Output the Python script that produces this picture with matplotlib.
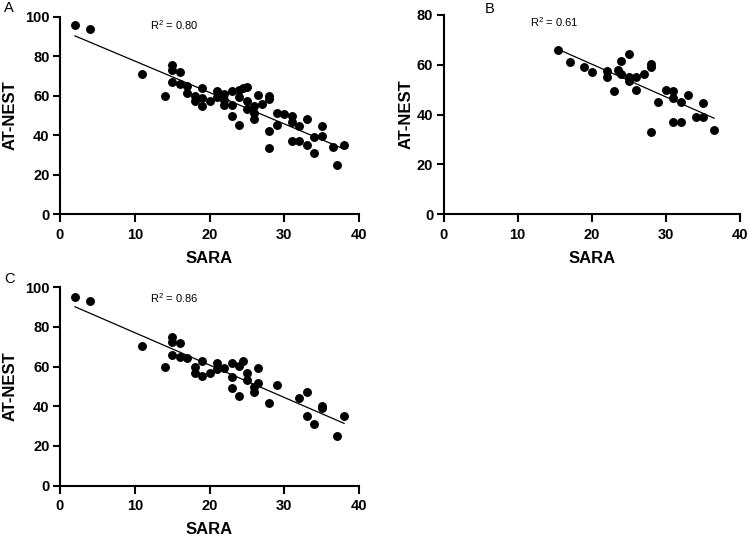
import numpy as np
import matplotlib
matplotlib.use("Agg")
import matplotlib.pyplot as plt

plt.rcParams['font.family'] = ['Liberation Sans', 'DejaVu Sans']
plt.rcParams['mathtext.fontset'] = 'custom'
plt.rcParams['mathtext.rm'] = 'Liberation Sans'

# Panel A data
a_x = [2, 4, 11, 14, 15, 15, 16, 15, 16, 17, 17, 18, 18, 19, 19, 19, 20, 21, 21, 22, 22, 22,
       23, 23, 23, 24, 24, 24, 24.5, 25, 25, 25, 26, 26, 26, 26.5, 27, 28, 28, 28, 28, 29, 29,
       30, 31, 31, 31, 32, 32, 33, 33, 34, 34, 35, 35, 36.5, 37, 38]
a_y = [95.5, 93.5, 71, 60, 75.5, 73, 72, 67, 66, 65, 61.5, 60, 57.5, 64, 59, 55, 57.5, 62.5, 59.5,
       61, 58, 55.5, 62.5, 55.5, 49.5, 45, 59.5, 63, 64, 64.5, 57.5, 53, 54.5, 51, 48, 60.5, 56,
       60, 58.5, 42, 33.5, 51, 45, 50.5, 49.5, 46.5, 37, 44.5, 37, 48, 35, 39, 31, 44.5, 39.5,
       34, 25, 35]

# Panel B data
b_x = [15.5, 17, 19, 20, 22, 22, 23, 23.5, 24, 24, 25, 25, 25, 26, 26, 27, 28, 28, 28, 29, 30,
       31, 31, 31, 32, 32, 33, 34, 35, 35, 36.5]
b_y = [66, 61, 59, 57, 57.5, 55, 49.5, 58, 61.5, 56.5, 64.5, 55, 53.5, 50, 55, 56.5, 60.5, 59,
       33, 45, 50, 49.5, 46.5, 37, 45, 37, 48, 39, 44.5, 39, 34]

# Panel C data
c_x = [2, 4, 11, 14, 15, 15, 16, 15, 16, 17, 18, 18, 19, 19, 20, 21, 21, 22, 23, 23, 23, 24, 24,
       24.5, 25, 25, 26, 26, 26.5, 26.5, 28, 29, 32, 33, 33, 34, 35, 35, 37, 38]
c_y = [95, 93, 70.5, 60, 75, 72.5, 72, 66, 65, 64.5, 60, 57, 63, 55, 57, 62, 59, 59.5, 62, 54.5,
       49, 60.5, 45, 63, 57, 53, 49.5, 47, 59.5, 51.5, 41.5, 50.5, 44, 47, 35, 31, 40, 39, 25, 35]

r2_labels = ["R$^2$ = 0.80", "R$^2$ = 0.61", "R$^2$ = 0.86"]
panel_letters = ["A", "B", "C"]
x_ticks = [0, 10, 20, 30, 40]
yticks_a = [0, 20, 40, 60, 80, 100]
yticks_b = [0, 20, 40, 60, 80]

W, H = 749, 536
fig = plt.figure(figsize=(W / 100, H / 100), dpi=100)

def make_ax(left, right, top, bottom):
    return fig.add_axes([left / W, 1 - bottom / H, (right - left) / W, (bottom - top) / H])

axA = make_ax(60, 359, 16.5, 214.3)
axB = make_ax(443.5, 740, 15, 214.3)
axC = make_ax(60, 359, 287.3, 485.5)

panels = [
    (axA, a_x, a_y, yticks_a, r2_labels[0], (15.3, 95.6), -0.166),
    (axB, b_x, b_y, yticks_b, r2_labels[1], (15.0, 77.2), -0.125),
    (axC, c_x, c_y, yticks_a, r2_labels[2], (15.3, 94.8), -0.166),
]

for ax, xs, ys, yt, r2, pos, ylx in panels:
    xs = np.array(xs, float)
    ys = np.array(ys, float)
    ax.plot(xs, ys, 'o', color='black', markersize=5.4, clip_on=False, zorder=3)
    m, b = np.polyfit(xs, ys, 1)
    xl = np.array([xs.min(), xs.max()])
    ax.plot(xl, m * xl + b, color='black', linewidth=0.9, zorder=2)
    ax.set_xlim(0, 40)
    ax.set_ylim(0, yt[-1])
    ax.set_xticks(x_ticks)
    ax.set_yticks(yt)
    for s in ['top', 'right']:
        ax.spines[s].set_visible(False)
    for s in ['left', 'bottom']:
        ax.spines[s].set_linewidth(1.5)
    ax.tick_params(direction='out', length=5.4, width=1.5, labelsize=10.5)
    ax.tick_params(axis='x', pad=4.5)
    ax.tick_params(axis='y', pad=2)
    for lab in ax.get_xticklabels() + ax.get_yticklabels():
        lab.set_fontweight('bold')
    xlab = ax.set_xlabel('SARA', fontsize=12, fontweight='bold')
    xlab.set_va('center')
    ax.xaxis.set_label_coords(0.5, -0.222)
    ylab = ax.set_ylabel('AT-NEST', fontsize=12, fontweight='bold')
    ylab.set_va('center')
    ax.yaxis.set_label_coords(ylx, 0.5)
    ax.text(pos[0], pos[1], r2, fontsize=8, ha='center', va='center')

fig.text(4 / W, 1 - 8 / H, panel_letters[0], fontsize=10.5, ha='left', va='center')
fig.text(485 / W, 1 - 9 / H, panel_letters[1], fontsize=10.5, ha='left', va='center')
fig.text(4 / W, 1 - 279 / H, panel_letters[2], fontsize=10.5, ha='left', va='center')

fig.savefig('out.png', dpi=100)
